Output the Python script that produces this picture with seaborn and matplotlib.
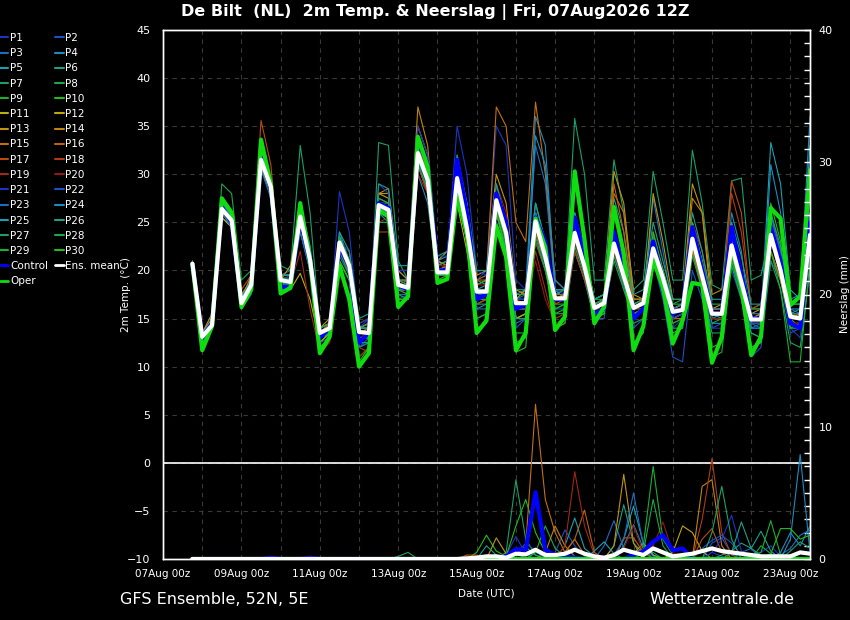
import pandas as pd
import matplotlib
matplotlib.use('Agg')
import matplotlib.pyplot as plt
import matplotlib.dates as mdates
from matplotlib.ticker import MultipleLocator
from matplotlib.lines import Line2D
import seaborn as sns

# 6-hourly steps of the 07Aug2026 12Z run
times = pd.date_range('2026-08-07 18:00', periods=64, freq='6h')

# 2m temperature (deg C), one list per member
p1_temp = [20.5, 13, 14.5, 26, 25, 16, 18, 31, 28, 19, 19.5, 24, 20, 13, 14, 28.2,
           24, 14, 15, 25, 25, 17, 17.5, 33, 31, 21, 20, 32, 27, 19, 20, 35,
           33, 19, 18, 27, 23, 17.5, 18, 22, 19, 15, 16, 24, 20, 16, 17, 21,
           18, 14, 15, 25, 21, 16, 16, 20, 17, 14, 14, 22, 19, 14, 13, 22]
p2_temp = [20.8, 13.2, 14.6, 26.3, 25.3, 16.8, 18.2, 32, 29, 18.5, 18.8, 26, 22, 12.5, 13.5, 22,
           20, 12, 13, 28, 28, 20, 19, 34, 31, 19, 19, 31, 24, 15, 15.5, 26,
           22, 14, 15, 24, 20, 16, 16, 25, 21, 15, 15, 24, 20, 14, 15, 21,
           17, 11, 10.5, 20, 17, 14, 14.5, 21, 17, 11, 12, 21, 19, 13.5, 14, 24]
p3_temp = [20.6, 13, 14.2, 26.8, 25.5, 17, 19, 31.5, 28.5, 19.5, 20, 26.5, 22, 14, 14.5, 22.5,
           20, 12.5, 12.5, 26, 26, 18, 18.5, 31.5, 29, 20.5, 21, 30, 24, 17, 17.5, 27,
           24, 17, 17.5, 33, 29, 18, 17, 23, 20, 16.5, 17, 22, 18, 15, 16, 27.5,
           22, 16, 16.5, 25, 20, 15, 15, 23, 19, 14, 14.5, 26, 21, 16, 15.5, 26]
p4_temp = [20.4, 12.8, 14, 25.5, 24.5, 16.5, 18.5, 31, 28, 19, 19, 25, 21, 13, 13.5, 24,
           21, 14, 14, 26, 25, 17, 17, 30, 27, 19, 19, 28, 23, 16, 16.5, 28,
           24.5, 17.5, 18, 36, 33, 18, 17, 26, 22, 16, 16.5, 24, 20, 15.5, 16, 23,
           20, 16, 16.5, 24, 19, 14.5, 14.5, 26, 22, 14, 14, 31, 26, 17, 17.5, 36]
p5_temp = [20.9, 13.5, 15, 27, 25.5, 17, 19, 32, 29, 19.5, 19.5, 27, 22.5, 14, 14.5, 23.5,
           21, 14, 14, 27.5, 27, 19, 18.5, 32.5, 30, 21, 21.5, 31, 25, 18, 18.5, 29,
           25, 17, 17, 26, 22, 18, 18, 25, 21, 17, 17.5, 24, 20, 17, 17, 23,
           20, 16, 16, 24, 20, 15.5, 15, 24, 20, 15, 15, 33.3, 29, 18, 17, 33]
p6_temp = [20.5, 13.2, 14.4, 26.2, 25, 16.8, 18.8, 31.8, 28.8, 18.5, 18.5, 25, 21.5, 13.5, 14.2, 22.5,
           20, 13, 13, 27, 26, 19, 18.5, 33, 30, 20, 20, 29, 24, 17.5, 17.5, 27,
           23, 15, 15.5, 24, 21, 17, 17, 23, 20, 16, 17, 27.5, 24, 17, 17, 22,
           19, 15, 15.5, 24, 20, 15, 15.5, 22, 18.5, 15, 15, 24, 21, 15.5, 16, 24]
p7_temp = [20.6, 12.5, 14, 27.5, 26, 16.5, 18.5, 32.5, 29.5, 20.5, 20, 33, 26, 14, 14.5, 23,
           21, 13, 13, 33.3, 33, 21, 19, 33, 30, 20, 20, 31, 27, 19, 18.5, 28,
           25, 17, 17, 27, 23, 18, 18, 35.8, 30, 19, 19, 31.5, 26, 18, 19, 30.3,
           25, 19, 19, 32.5, 27, 18.5, 18, 29.3, 29.6, 19, 19.5, 24, 21, 15, 14, 25]
p8_temp = [20.7, 13, 14.3, 29, 28, 19, 20, 33, 29, 19, 19, 24, 20, 12.5, 13.5, 21,
           19, 12, 12.5, 25, 25, 18, 18, 31, 28.5, 19.5, 19.5, 28, 23, 17, 17, 26,
           22, 15, 15.5, 23, 20, 16, 16.5, 22, 19, 15, 16, 21, 18, 15, 16, 21,
           18, 15, 15.5, 22, 18.5, 14.5, 15, 21, 18, 13.5, 13, 22, 19, 14, 14.5, 22]
p9_temp = [20.8, 13.4, 14.8, 26.5, 25.5, 16.5, 18, 31, 28, 18.5, 19, 25.5, 21, 13.5, 14, 22,
           20, 14, 14, 27, 27, 18, 18, 31.5, 28, 19.5, 20, 29.5, 24, 18, 17.5, 26.5,
           23, 16, 16, 24, 20.5, 16.5, 16.5, 23.5, 20.5, 16, 16, 22, 19, 15.5, 16, 21.5,
           18.5, 15, 15.5, 22.5, 19, 15, 15, 22, 18.5, 14.5, 14.5, 22, 19, 14.5, 14, 22.5]
p10_temp = [20.7, 12.2, 14.2, 26, 24.8, 16.2, 18.2, 31, 28.2, 18.8, 18.7, 25.5, 20.5, 12, 13, 21,
            19, 11, 12, 26, 26, 17.5, 17.5, 33, 30, 19.5, 19.5, 28.5, 23.5, 15, 15.5, 25,
            21, 11.5, 12, 24, 21, 15.5, 16, 25, 22, 17, 17.5, 22, 20, 16.5, 17, 24,
            20, 16.5, 16.5, 22, 18, 16, 16, 23, 19.5, 16, 16.5, 23, 20.5, 15.5, 15.5, 22]
p11_temp = [20.4, 13.2, 14.6, 25.5, 24.5, 16.5, 18.5, 30.5, 28, 18.5, 18, 19.7, 17, 12.5, 13.5, 22,
            20, 13.5, 14, 27, 26.5, 18, 18, 31, 28, 20, 20.5, 27, 22, 16.5, 17, 25,
            22, 15, 15.5, 24, 21, 17, 17, 24, 21, 16.5, 17, 26, 22, 17, 17, 23,
            20, 16, 16.5, 24, 20, 16, 16, 22.5, 19, 15, 15, 23, 20, 15.5, 15, 23]
p12_temp = [20.6, 13, 14.2, 26.5, 25.5, 17.5, 19, 31.5, 28.5, 19.5, 19.5, 26, 21, 13.5, 14.5, 23.5,
            21, 14, 14.5, 28, 27.5, 19, 19, 33, 30.5, 21, 22, 30, 25, 18.5, 19, 28,
            24, 17, 18, 25, 21.5, 17.5, 17.5, 25, 21, 16.5, 17, 24, 21, 16.5, 17, 23.5,
            20, 16, 16.5, 24, 20, 16, 16, 23, 19.5, 15, 15.5, 24, 21, 15.5, 15.5, 24]
p13_temp = [20.5, 13.5, 15.5, 26, 25, 17, 19.5, 31, 29, 19, 20.5, 26, 22, 14, 15, 23,
            22, 14, 14.5, 28, 28, 20, 19, 35, 32, 21, 20.5, 31, 26, 19.5, 20, 30,
            27, 18, 17.5, 26, 22.5, 17, 17, 24.5, 21, 16.5, 17, 30.3, 27, 17.5, 17, 28,
            23, 17, 17, 29, 26, 16, 16.5, 24, 20, 15.5, 16, 24, 20.5, 15, 15.5, 24]
p14_temp = [21, 13.5, 15, 26.5, 25, 16.5, 18.5, 32, 29, 19.5, 19.5, 26, 22, 13, 14, 23,
            21, 13.5, 13.5, 28, 28.5, 20, 20, 37, 33, 21, 20.5, 30, 25, 18, 17.5, 27,
            23.5, 16, 16, 25, 22, 17, 17.5, 24, 21, 16.5, 17, 23, 20, 16, 16.5, 22,
            19, 15.5, 16, 27.5, 26, 17.5, 18, 22, 19, 15, 15.5, 23, 20, 15, 15, 23]
p15_temp = [20.5, 13, 14.5, 26, 24.5, 16, 18, 31.5, 28.5, 18.5, 18.5, 25, 20.5, 13, 13.5, 22,
            20, 14, 14.5, 27, 26, 18, 18, 32.5, 29.5, 20, 20.5, 28, 24, 19, 19.5, 37,
            35, 25, 23, 37.5, 30, 19, 18, 25, 21, 16, 16.5, 28, 26, 17, 17, 22,
            19, 15, 15, 22, 18.5, 15, 15, 21.5, 18, 14.5, 14.5, 22, 19, 14.5, 14.5, 22]
p16_temp = [20.6, 13.3, 14.7, 26.7, 25.5, 17, 18.5, 31, 28.5, 19, 19, 25.5, 21.5, 13.5, 14.5, 23.5,
            21, 14.5, 15, 27, 26, 18.5, 19, 33, 30, 20.5, 21, 30, 25.5, 19, 19, 27,
            24, 17.5, 17.5, 24, 21, 17.5, 17.5, 23, 20, 16.5, 17, 29, 24, 16, 16, 21,
            18, 15, 15, 23, 19, 15.5, 15.5, 22, 19, 15, 15, 25, 22, 15.5, 15, 23]
p17_temp = [21, 13.5, 14.5, 27, 26, 18, 19.5, 35.6, 31, 19.5, 19.5, 26, 22, 14, 14.5, 23,
            21, 13.5, 14, 26.5, 26, 18, 18, 32, 29, 19.5, 19.5, 29, 24, 17.5, 17.5, 26.5,
            23, 16, 16, 24, 21, 16.5, 17, 23.5, 20.5, 16, 16.5, 22.5, 19.5, 16, 16.5, 22,
            18.5, 15, 15.5, 23, 19.5, 15.5, 15.5, 29.3, 26, 16, 16, 23, 20, 15, 15, 23]
p18_temp = [20.7, 13, 14.5, 26.5, 25, 16.5, 18.5, 32, 29, 19, 19, 25.5, 21, 13, 13.5, 22.5,
            19.5, 12, 11.5, 24, 24, 17, 17, 31, 28, 19, 19, 28.5, 23, 16.5, 17, 26,
            22, 15, 15, 23, 20, 15, 15.5, 22, 19, 15.5, 16, 21.5, 18.5, 15.5, 16, 22,
            19, 14.5, 15, 25, 22, 16, 16, 28, 24, 16, 16.5, 24, 21, 15, 15, 23]
p19_temp = [20.5, 13, 14.2, 26, 25, 16.5, 18, 31.5, 28.5, 18.5, 18.5, 22, 16, 11.5, 12.5, 20,
            17, 11, 12, 25, 25.5, 18, 17.5, 30, 28, 19, 19, 28, 24, 18, 18, 27,
            24, 16, 16, 22, 18, 14, 14.5, 23, 20, 16, 16, 22, 19, 15.5, 16, 21,
            18, 15, 15.5, 23, 19.5, 15, 15, 22, 19, 14.5, 14.5, 23, 19.5, 14.5, 14.5, 23]
p20_temp = [20.7, 13.1, 14.4, 26.3, 25.1, 16.4, 18.4, 31.2, 28.3, 18.8, 18.8, 25, 20.5, 13, 14, 22,
            20, 13, 13.5, 26, 26, 18, 18, 31, 29, 20.5, 20.5, 30, 25, 18.5, 18.5, 29,
            26, 17, 16.5, 21, 17, 14.5, 15, 22.5, 19.5, 16, 16.5, 22, 19, 16, 17, 24,
            20, 16, 16, 24, 19.5, 15, 15, 23, 19, 15, 15, 24, 20, 14.5, 14.5, 22.5]
p21_temp = [20.6, 13, 14.3, 26.5, 25.2, 16.8, 18.8, 31.5, 28.4, 19.2, 19, 25.5, 21, 13.5, 14, 23,
            22, 14.5, 15, 29, 28, 20, 20, 35, 32, 21.5, 21.5, 35, 30, 20, 19.5, 28,
            24, 17, 17, 26, 22, 18, 17.5, 24, 20.5, 15.5, 16, 23, 19, 16, 16.5, 23,
            19, 15, 15.5, 23, 19, 14, 14, 22, 18.5, 14.5, 14.5, 24, 20.5, 15, 15, 25]
p22_temp = [20.8, 13, 14.5, 26.5, 25, 16.5, 18.5, 31.5, 28.5, 19, 19, 25.5, 21, 13.5, 14, 22.5,
            20.5, 13.5, 13.5, 27, 26.5, 18.5, 18, 32, 29, 19.5, 20, 29, 24, 17.5, 17.5, 27,
            23.5, 16, 16, 25, 21.5, 17, 17, 23.5, 20, 15.5, 16, 23, 19.5, 16, 16.5, 22,
            18.5, 15, 15.5, 23, 19.5, 15.5, 15.5, 22, 18.5, 14.5, 14.5, 23.5, 20, 14.5, 14, 22]
p23_temp = [20.5, 12.8, 14, 26, 24.5, 16, 17.5, 30.5, 27.5, 18, 18, 24, 20, 12.5, 13, 21.5,
            19.5, 12, 12.5, 26, 25.5, 17.5, 17.5, 31, 28.5, 19.5, 19.5, 28.5, 23.5, 16, 16, 25,
            22, 14.5, 15, 26, 23, 18, 18, 25.5, 22, 17, 17.5, 24, 20.5, 16.5, 17, 23.5,
            20, 16, 16.5, 24.5, 21, 16, 16, 22.5, 19, 14.5, 14, 26, 22, 15.5, 15.5, 26]
p24_temp = [20.7, 13, 14.5, 26.5, 25.5, 17, 19, 32, 29, 19.5, 19.5, 26, 21.5, 13.5, 14, 23.5,
            21, 13, 13, 26.5, 26, 18, 18, 31.5, 29, 20, 20, 29, 24, 17.5, 18, 27,
            24, 16, 16.5, 34, 31, 19, 18, 24, 21, 16.5, 17, 23, 19.5, 16, 16.5, 22.5,
            19, 15.5, 16, 23.5, 20, 15.5, 15.5, 23, 20, 15.5, 15.5, 24, 21, 16, 16, 25]
p25_temp = [20.6, 13.2, 14.4, 26.4, 25.2, 16.6, 18.5, 31.5, 28.6, 19, 18.9, 25.6, 21.2, 13.5, 14, 23,
            21, 14, 14, 27, 26.5, 18.5, 18.5, 32, 29.5, 20, 20, 29.5, 24.5, 18, 18, 27.5,
            24, 16.5, 16.5, 25, 21.5, 17, 17, 24, 20.5, 16, 16.5, 23, 19.5, 16, 16.5, 22.5,
            19, 15.5, 16, 23.5, 19.5, 15.5, 15.5, 22.5, 19, 15, 15, 23.5, 20, 15, 15, 24]
p26_temp = [20.8, 13.5, 14.8, 27, 25.8, 17.2, 19, 32.5, 29.5, 19.5, 19.5, 27, 22.5, 14, 14.5, 24,
            22, 15, 15.5, 29, 28.5, 20.5, 20.5, 34, 31, 21.5, 22, 32, 27, 20, 20, 29,
            25, 18, 18, 27, 23, 18, 18, 26, 22, 17, 17.5, 26, 22, 17.5, 18, 25,
            21, 17, 17, 26, 22, 17, 17, 25, 21.5, 16.5, 16.5, 26, 22.5, 16.5, 16.5, 28]
p27_temp = [20.6, 12.8, 14.2, 26.2, 25, 16.2, 18, 31, 28, 18.5, 18.5, 25, 20.5, 13, 13.5, 22,
            19.5, 12.5, 12.5, 26, 25.5, 17.5, 17, 31, 28.5, 19, 19, 28, 23, 16.5, 16.5, 26,
            22.5, 15, 15, 23.5, 20, 15.5, 15.5, 22.5, 19.5, 15, 15.5, 21.5, 18.5, 14.5, 15, 21,
            17.5, 14, 14, 21.5, 18, 13.5, 13.5, 21, 17.5, 13.5, 13, 21, 18, 12.5, 12, 20]
p28_temp = [20.7, 13.3, 14.6, 26.6, 25.4, 16.8, 18.6, 31.6, 28.8, 19.2, 19.2, 26, 21.5, 14, 14.5, 23.5,
            21, 14, 14.5, 27.5, 27, 19, 19, 32.5, 30, 20.5, 21, 30, 25, 18.5, 19, 28,
            24.5, 17.5, 17.5, 25.5, 22, 17.5, 18, 25, 21, 16.5, 17, 23.5, 20, 16.5, 17, 23,
            20, 16.5, 17, 24.5, 21, 16.5, 16.5, 23.5, 20, 16, 16, 25, 21.5, 16.5, 16.5, 25]
p29_temp = [20.6, 12.5, 14, 26.5, 25.5, 16, 18, 31.5, 28.5, 18.5, 18.5, 25, 21, 13, 13.5, 22.5,
            20, 13, 13, 26.5, 26.5, 18, 17.5, 31.5, 29, 19.5, 19.5, 29, 24, 17, 17, 26.5,
            23, 13.5, 13.5, 24.5, 21, 16, 16.5, 25, 22, 17, 17, 23, 20, 15.5, 16, 22,
            19.5, 14.5, 15, 23, 19, 11, 11.5, 20.5, 17, 12, 12.5, 22, 18, 10.5, 10.5, 21]
p30_temp = [20.7, 12, 14, 27.5, 26, 16, 18, 33, 29.5, 18, 18.5, 27, 22, 12, 13, 21,
            19, 10.5, 12, 27, 26.5, 17, 17, 33.5, 30, 19, 19.5, 28, 23, 14, 14.5, 26,
            22, 12.5, 13, 25.5, 22, 14, 14.5, 29, 24, 15, 15.5, 24, 20, 12.5, 13.5, 24,
            20, 13.5, 14, 25, 21, 12, 12.5, 23, 19, 12, 12.5, 27, 23, 14, 14, 29]

control_temp = [20.7, 13, 14.5, 26.6, 25, 16.5, 18.3, 31.8, 28.5, 18.3, 18.3, 25.5, 21, 13, 14, 22.5,
                20.5, 12.5, 13.5, 27, 26.5, 18.5, 18, 33.5, 31, 20, 20, 31.5, 26, 17, 17.5, 28,
                25, 16, 16.5, 25.5, 23, 17, 17, 25.5, 21.5, 15.5, 16, 24, 20, 15, 16, 23,
                19, 15.5, 16, 24.5, 20, 15.5, 15.5, 24.5, 19.5, 15, 15, 24.5, 21, 14.5, 14, 25]
oper_temp = [20.7, 11.7, 14.2, 27.5, 26, 16.2, 18, 33.6, 29, 17.6, 18.2, 27, 21, 11.4, 13.1, 20.5,
             17, 10, 11.4, 26.3, 25.6, 16.2, 17.3, 33.9, 30.8, 18.7, 19.1, 27.7, 23.9, 13.5, 14.8, 24.6,
             21.4, 11.7, 13.5, 25.4, 22.4, 13.8, 15.2, 30.3, 23.2, 14.5, 16.2, 26.6, 21.8, 11.7, 14.2, 21.1,
             18.3, 12.4, 14.8, 18.7, 18.5, 10.4, 13.1, 22.5, 18.3, 11.2, 13.1, 26.5, 25.4, 16.4, 17.3, 30.4]
mean_temp = [20.7, 13.1, 14.3, 26.4, 25.2, 16.6, 18.5, 31.5, 28.7, 19.0, 18.8, 25.6, 21.1, 13.5, 14.0, 22.9,
             20.5, 13.6, 13.5, 26.8, 26.3, 18.5, 18.2, 32.2, 29.4, 19.8, 19.8, 29.6, 24.4, 17.8, 17.8, 27.3,
             23.9, 16.6, 16.6, 25.1, 21.4, 17.1, 17.1, 23.9, 20.4, 16.1, 16.6, 22.8, 19.4, 16.1, 16.6, 22.3,
             19.2, 15.7, 15.9, 23.3, 19.4, 15.5, 15.5, 22.6, 18.8, 14.9, 14.9, 23.7, 20.0, 15.2, 15.0, 23.7]

# precipitation (mm) per 6h, dry until 14 Aug 12Z for most members
p1_rain = [0] * 8 + [0.1] + [0] * 19 + [0, 0, 0, 0, 0.3, 1.7, 0.4, 0, 0,
                                        0, 0, 0.2, 0, 0, 0, 0, 0, 0,
                                        0, 0, 0, 0, 0, 0, 0, 0.5, 0.2,
                                        0, 0, 0.3, 0.5, 1.0, 0.2, 0, 0, 0]
p2_rain = [0] * 28 + [0, 0, 0, 0, 0, 0, 0, 0, 0.2,
                      0.5, 2.2, 1.0, 0.2, 0, 0, 0, 0, 0,
                      0, 0, 0, 0.3, 0, 0, 0, 1.2, 1.6,
                      0.4, 0, 0, 0, 0, 0, 0, 0, 0]
p3_rain = [0] * 28 + [0, 0, 0, 0, 0, 0, 0.3, 0.8, 0.2,
                      0, 0, 0, 0, 0, 1.0, 2.9, 0.8, 0.2,
                      0, 0, 0, 0, 0, 0, 0, 0, 0,
                      0, 0.5, 0.8, 0, 0, 0.3, 0.8, 1.8, 2.2]
p4_rain = [0] * 28 + [0, 0, 0, 0, 0, 0, 0, 0, 0,
                      0, 0.3, 0.8, 0.5, 0, 0, 0, 1.0, 2.6,
                      0.8, 0, 0, 0, 0, 0, 0, 0, 0,
                      0, 0, 0, 0, 0, 0.5, 2.0, 1.0, 2.5]
p5_rain = [0] * 28 + [0, 0, 0, 0, 0, 0.4, 0.9, 0.3, 0,
                      0, 1.0, 3.1, 0.8, 0.2, 0, 0, 1.5, 4.0,
                      1.2, 0.3, 0, 0, 0, 0, 0, 0, 0,
                      0, 0, 0, 0, 0.3, 0, 0, 0, 0]
p6_rain = [0] * 28 + [0, 0, 0, 0, 0, 0, 0, 0.5, 0.2,
                      0, 0, 0, 0, 0, 0, 1.0, 4.1, 1.2,
                      0.4, 0.5, 0, 0, 0, 0, 0, 0, 0.3,
                      0.6, 1.2, 0.8, 0.3, 0, 0, 0, 0, 0]
p7_rain = [0] * 28 + [0, 0, 0, 0, 0.5, 6.0, 1.5, 0.3, 0,
                      0, 0, 0, 0, 0, 0, 0, 0, 0,
                      0, 0, 0, 0, 0, 0, 0, 0, 0,
                      0, 0, 0, 0, 0, 0, 0.6, 1.3, 0.8]
p8_rain = [0] * 21 + [0.2, 0.5] + [0] * 5 + [0, 0, 0, 0, 0, 0, 0, 0.5, 2.5,
                                             0.8, 0.2, 0, 0, 0, 0, 0, 0, 0,
                                             0, 0, 0, 0, 0, 0, 0, 0, 0,
                                             0, 0, 0, 1.0, 0.4, 0, 0, 0, 0]
p9_rain = [0] * 28 + [0, 0, 0, 0, 0, 0, 0, 0, 0,
                      0, 0, 0, 0, 0, 0, 0, 0, 0,
                      1.0, 7.0, 1.5, 0.3, 0, 0, 0, 0, 0,
                      0, 0, 0, 0, 0, 0, 0, 0, 0]
p10_rain = [0] * 28 + [0, 0.5, 1.8, 0.6, 0.2, 2.5, 4.5, 2.0, 0.5,
                       0, 0, 0, 0, 0, 0, 0, 0, 0,
                       0, 0, 0, 0, 0, 0, 0, 0, 0,
                       0, 0, 0, 0, 0, 0, 0, 0, 0]
p11_rain = [0] * 28 + [0, 0, 0, 0, 0, 0, 0, 0, 0,
                       0, 0, 0, 0, 0, 0, 0, 0, 0.4,
                       1.2, 0.3, 0, 0, 0, 0, 0, 0, 0,
                       0, 0, 0, 0, 0, 0, 0, 0, 0]
p12_rain = [0] * 28 + [0, 0, 0, 0, 0, 0, 0, 0, 0,
                       0, 0, 0, 0, 0, 0, 0, 0, 0,
                       0, 0, 0, 0.5, 2.5, 2.0, 0.6, 0, 0,
                       0, 0, 0, 0, 0, 0, 0, 0, 0]
p13_rain = [0] * 28 + [0, 0, 0, 1.6, 0.4, 0, 0, 0, 0,
                       0, 0, 0, 0, 0, 0, 1.0, 6.4, 1.2,
                       0, 0, 0, 0, 0, 0, 0, 0, 0,
                       0, 0, 0, 0, 0, 0, 0, 0, 0]
p14_rain = [0] * 28 + [0, 0, 0, 0, 0, 0, 0, 0, 0.5,
                       2.5, 1.0, 0.2, 0, 0, 0, 0, 0, 0,
                       0, 0, 0, 0, 0, 0, 5.5, 6.0, 1.0,
                       0, 0, 0, 0, 0, 0, 0, 0, 0]
p15_rain = [0] * 28 + [0, 0, 0, 0, 0, 0.3, 1.0, 11.7, 4.5,
                       2.0, 0.5, 1.5, 0.3, 0, 0, 0, 0, 0,
                       0, 0, 0, 0, 0, 0, 0, 0, 0,
                       0, 0, 0, 0, 0, 0, 0, 0, 0]
p16_rain = [0] * 28 + [0.3, 0.3, 0, 0, 0, 0, 0, 0, 0,
                       0, 0.5, 1.5, 3.7, 0.5, 0, 0, 1.6, 1.6,
                       0.5, 0, 0, 0, 0, 0, 0, 0, 0,
                       0, 0, 0, 0, 0, 0, 0, 0, 0]
p17_rain = [0] * 28 + [0, 0, 0, 0, 0, 0, 0, 0, 0,
                       0, 0, 0, 0, 0, 0, 0, 0, 0,
                       0, 0, 0, 0, 0, 0, 1.5, 2.3, 0.5,
                       0, 0, 0, 0, 0, 0, 0, 0, 0]
p18_rain = [0] * 28 + [0, 0, 0, 0, 0, 0, 0, 0, 0,
                       0, 0, 0, 0, 0, 0, 0, 0, 0,
                       0, 0, 0, 0, 0, 0, 3.0, 7.6, 2.0,
                       0.3, 0, 0, 0, 0, 0, 0, 0, 0]
p19_rain = [0] * 28 + [0, 0, 0, 0, 0, 0, 0, 0, 0,
                       0, 1.0, 6.6, 2.5, 0.3, 0, 0, 0, 0,
                       0, 0, 0, 0, 0, 0, 0, 0, 0,
                       0, 0, 0, 0, 0, 0, 0, 0, 0]
p20_rain = [0] * 28 + [0, 0, 0, 0, 0, 0, 0, 0, 0,
                       0, 0, 0, 0, 0, 0, 0, 0.8, 2.5,
                       0.5, 1.0, 2.8, 0.5, 0, 0, 0, 0, 0,
                       0, 0, 0, 0, 0, 0, 0, 0, 0]
p21_rain = [0] * 28 + [0, 0, 0, 0, 0, 0, 0, 0, 0,
                       0, 0, 0, 0, 0, 0, 0, 0, 0,
                       0, 0, 0, 0, 0, 0, 0, 0.5, 1.5,
                       3.3, 0.6, 0, 0, 0, 0, 0, 0, 0]
p22_rain = [0] * 12 + [0.1] + [0] * 15 + [0, 0, 0, 0, 0, 0.3, 1.2, 0.6, 0,
                                          0, 0, 0, 0, 0, 0, 0, 0, 0,
                                          0, 0, 0, 0, 0, 0, 0.8, 1.4, 1.8,
                                          1.2, 0.3, 0, 0, 0, 0, 0, 0, 0]
p23_rain = [0] * 28 + [0, 0, 0, 0, 0, 0, 0, 0, 0,
                       0, 0, 0, 0, 0, 0, 0.3, 1.5, 5.0,
                       1.0, 0.2, 0, 0, 0, 0, 0, 0, 0,
                       0, 0, 0, 0, 0, 0, 0, 0, 0]
p24_rain = [0] * 28 + [0, 0, 0, 0, 0, 0, 0, 0, 0,
                       0, 0, 0, 0, 0, 0, 0, 0, 0,
                       0, 0, 0, 0, 0, 0, 0, 0, 0,
                       0, 0, 0, 0, 0, 0, 1.5, 7.9, 0.5]
p25_rain = [0] * 28 + [0, 0, 0, 0, 0, 0, 0, 0, 0,
                       0, 0, 0, 0, 0.6, 1.3, 0.4, 0, 0,
                       0, 0, 0, 0, 0, 0, 0, 0, 0,
                       0, 0, 0, 0, 0, 0, 0, 0, 0]
p26_rain = [0] * 28 + [0, 0, 1.0, 0.3, 0, 0, 0, 0, 0,
                       0, 0, 0, 0, 0, 0, 0, 0, 0,
                       0, 0, 0, 0, 0, 0, 0, 0, 0,
                       0.5, 2.8, 0.8, 2.1, 0.6, 0, 0, 0, 0]
p27_rain = [0] * 25 + [0.1] + [0] * 2 + [0, 0, 0, 0, 0, 0, 0, 0, 0,
                                         0, 0, 0, 0, 0, 0, 0, 0, 0,
                                         0, 0, 0, 0, 0, 0, 0, 2.0, 5.5,
                                         1.5, 0, 0, 0, 0, 0, 0, 0, 0]
p28_rain = [0] * 28 + [0, 0, 0, 0, 0, 0, 0, 0, 0,
                       0, 0, 0, 0, 0, 0, 0, 0, 0,
                       0.5, 4.5, 1.0, 0, 0, 0, 0, 0, 0,
                       0, 0, 0, 0, 0, 0, 0.3, 0, 0]
p29_rain = [0] * 28 + [0, 0, 0, 0, 0, 0, 0, 0, 0,
                       0, 0, 0, 0, 0, 0, 0, 0, 0,
                       0, 0, 0, 0, 0, 0, 0, 0, 0,
                       0, 0, 0.2, 0.5, 2.9, 0.3, 0, 0, 0]
p30_rain = [0] * 28 + [0, 0, 0, 0, 0, 0, 0, 0, 0,
                       0, 0, 0, 0, 0, 0, 0, 0, 0,
                       0, 0, 0, 0, 0, 0, 0, 0, 0,
                       0, 0, 0, 0, 0.4, 2.3, 2.3, 1.5, 1.8]

control_rain = [0] * 8 + [0.1] + [0] * 3 + [0.1] + [0] * 15 + [0, 0, 0, 0, 0.2, 0.75, 0.7, 5.05, 0.7,
                                                                0.3, 0.2, 0.1, 0, 0, 0, 0, 0, 0.3,
                                                                0.55, 1.3, 1.8, 0.65, 0.8, 0, 0, 0, 0,
                                                                0, 0, 0, 0, 0, 0, 0, 0, 0]
oper_rain = [0] * 64
mean_rain = [0] * 28 + [0.05, 0.1, 0.2, 0.2, 0.1, 0.4, 0.35, 0.7, 0.3,
                        0.3, 0.4, 0.7, 0.4, 0.2, 0.1, 0.3, 0.7, 0.5,
                        0.3, 0.8, 0.5, 0.2, 0.3, 0.4, 0.6, 0.8, 0.6,
                        0.5, 0.4, 0.3, 0.2, 0.2, 0.2, 0.2, 0.5, 0.4]

member_temps = [p1_temp, p2_temp, p3_temp, p4_temp, p5_temp, p6_temp, p7_temp, p8_temp, p9_temp, p10_temp,
                p11_temp, p12_temp, p13_temp, p14_temp, p15_temp, p16_temp, p17_temp, p18_temp, p19_temp, p20_temp,
                p21_temp, p22_temp, p23_temp, p24_temp, p25_temp, p26_temp, p27_temp, p28_temp, p29_temp, p30_temp]
member_rains = [p1_rain, p2_rain, p3_rain, p4_rain, p5_rain, p6_rain, p7_rain, p8_rain, p9_rain, p10_rain,
                p11_rain, p12_rain, p13_rain, p14_rain, p15_rain, p16_rain, p17_rain, p18_rain, p19_rain, p20_rain,
                p21_rain, p22_rain, p23_rain, p24_rain, p25_rain, p26_rain, p27_rain, p28_rain, p29_rain, p30_rain]

# colour ramp blue -> green -> yellow -> red, repeated for P21-P30
ramp = ['#1c33c4', '#1c50c4', '#1c6dc0', '#1c8cc0', '#1aa0b0', '#1aa08a', '#1aa068', '#1aa84c', '#1ab030', '#22bb1a',
        '#b8b010', '#c0a410', '#c09410', '#c08410', '#c07010', '#bc6010', '#b84c10', '#b03c10', '#a02814', '#901814']
names = ['P%d' % (i + 1) for i in range(30)]
colors = {n: ramp[i % 20] for i, n in enumerate(names)}

temp_df = pd.concat([pd.DataFrame({'time': times, 'value': v, 'member': n}) for n, v in zip(names, member_temps)])
rain_df = pd.concat([pd.DataFrame({'time': times, 'value': v, 'member': n}) for n, v in zip(names, member_rains)])

sns.set_style('dark', {'axes.facecolor': 'black', 'figure.facecolor': 'black'})
plt.rcParams['font.family'] = ['DejaVu Sans']
plt.rcParams['text.color'] = 'white'

fig = plt.figure(figsize=(8.5, 6.2), dpi=100, facecolor='black')
ax = fig.add_axes([163 / 850, 1 - 559 / 620, (810 - 163) / 850, (559 - 30) / 620])
ax.set_facecolor('black')
ax2 = ax.twinx()

grid_kw = dict(color='#3a3a32', linestyle=(0, (4, 4)), linewidth=0.8)
ax.grid(True, which='both', **grid_kw)
ax.set_axisbelow(True)
ax.axhline(0, color='white', linewidth=1.2, zorder=1.5)

# temperature
sns.lineplot(data=temp_df, x='time', y='value', hue='member', palette=colors, hue_order=names,
             linewidth=0.8, estimator=None, legend=False, ax=ax)
sns.lineplot(x=times, y=control_temp, color='#0000ff', linewidth=3, ax=ax)
sns.lineplot(x=times, y=oper_temp, color='#10dd10', linewidth=3, ax=ax)
sns.lineplot(x=times, y=mean_temp, color='white', linewidth=3, ax=ax)

# precipitation on right axis
sns.lineplot(data=rain_df, x='time', y='value', hue='member', palette=colors, hue_order=names,
             linewidth=0.8, estimator=None, legend=False, ax=ax2)
sns.lineplot(x=times, y=control_rain, color='#0000ff', linewidth=3, ax=ax2)
sns.lineplot(x=times, y=oper_rain, color='#10dd10', linewidth=3, ax=ax2)
sns.lineplot(x=times, y=mean_rain, color='white', linewidth=3, ax=ax2)

ax.set_xlim(pd.Timestamp('2026-08-07 00:00'), pd.Timestamp('2026-08-23 12:00'))
ax.set_ylim(-10, 45)
ax2.set_ylim(0, 40)

ax.set_xticks(pd.date_range('2026-08-07', '2026-08-23', freq='2D'))
ax.xaxis.set_minor_locator(mdates.DayLocator())
ax.xaxis.set_major_formatter(mdates.DateFormatter('%d%b %Hz'))
ax.yaxis.set_major_locator(MultipleLocator(5))
ax.tick_params(axis='x', which='both', length=0, pad=7, colors='white', labelsize=7.5)
ax.tick_params(axis='y', length=0, pad=9, colors='white', labelsize=8)

ax2.yaxis.set_major_locator(MultipleLocator(10))
ax2.yaxis.set_minor_locator(MultipleLocator(1))
ax2.tick_params(axis='y', which='both', direction='in', length=4, width=1, colors='white')
ax2.tick_params(axis='y', which='major', labelsize=8, pad=6)

for a in (ax, ax2):
    for s in a.spines.values():
        s.set_color('white')
        s.set_linewidth(1)

ax.set_xlabel('Date (UTC)', color='white', fontsize=7.5)
ax.set_ylabel('2m Temp. (°C)', color='white', fontsize=7.5)
ax2.set_ylabel('Neerslag (mm)', color='white', fontsize=7.5)
ax.xaxis.set_label_coords((486 - 163) / 647, -(589 - 559) / 529)
ax.yaxis.set_label_coords(-(163 - 131) / 647, 0.5)
ax2.yaxis.set_label_coords((840 - 163) / 647, 0.5)

fig.text(0.512, 0.981, 'De Bilt  (NL)  2m Temp. & Neerslag | Fri, 07Aug2026 12Z',
         ha='center', va='center', fontsize=11.5, fontweight='bold', color='white')
fig.text(120 / 850, 1 - 599 / 620, 'GFS Ensemble, 52N, 5E', ha='left', va='center', fontsize=11.5, color='white')
fig.text(794 / 850, 1 - 599 / 620, 'Wetterzentrale.de', ha='right', va='center', fontsize=11.5, color='white')

# legend: filled row by row, P1 P2 / P3 P4 / ... / Control Ens. mean / Oper
left_col = names[0::2] + ['Control', 'Oper']
right_col = names[1::2] + ['Ens. mean']
special = {'Control': '#0000ff', 'Oper': '#10dd10', 'Ens. mean': 'white'}
labels = left_col + right_col
handles = [Line2D([], [], color=colors.get(l, special.get(l)), linewidth=2 if l in special else 1.5) for l in labels]
fig.legend(handles, labels, loc='upper left', bbox_to_anchor=(0.0, 1 - 33 / 620), ncol=2, frameon=False,
           fontsize=7.5, labelcolor='white', handlelength=0.8, handletextpad=0.15, columnspacing=0.7,
           labelspacing=0.5, borderpad=0, borderaxespad=0)

fig.savefig('out.png', dpi=100, facecolor='black')
